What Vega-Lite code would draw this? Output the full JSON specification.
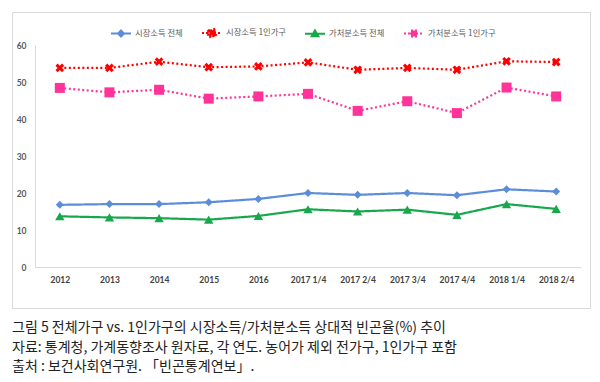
{
  "$schema": "https://vega.github.io/schema/vega-lite/v6.json",
  "width": 578,
  "height": 296,
  "autosize": {"type": "none"},
  "padding": {"left": 12, "top": 12, "right": 10, "bottom": 74},
  "background": "white",
  "config": {
    "view": {"stroke": "#d9d9d9", "strokeWidth": 1},
    "axis": {"grid": false, "ticks": false, "tickSize": 0, "title": null, "domainColor": "#d9d9d9", "domainWidth": 1, "labelFont": "Lato", "labelFontWeight": "bold"}
  },
  "title": {
    "text": [
      "그림 5 전체가구 vs. 1인가구의 시장소득/가처분소득 상대적 빈곤율(%) 추이",
      "자료: 통계청, 가계동향조사 원자료, 각 연도. 농어가 제외 전가구, 1인가구 포함",
      "출처 : 보건사회연구원. 「빈곤통계연보」."
    ],
    "orient": "bottom",
    "anchor": "start",
    "frame": "group",
    "offset": 13,
    "font": "Noto Sans CJK KR",
    "fontSize": 14,
    "fontWeight": "normal",
    "color": "#222222",
    "lineHeight": 19.5
  },
  "data": {
    "values": [
      {"period": "2012", "series": "시장소득 전체", "value": 16.8},
      {"period": "2013", "series": "시장소득 전체", "value": 17.0},
      {"period": "2014", "series": "시장소득 전체", "value": 17.0},
      {"period": "2015", "series": "시장소득 전체", "value": 17.5},
      {"period": "2016", "series": "시장소득 전체", "value": 18.4},
      {"period": "2017 1/4", "series": "시장소득 전체", "value": 20.0},
      {"period": "2017 2/4", "series": "시장소득 전체", "value": 19.5},
      {"period": "2017 3/4", "series": "시장소득 전체", "value": 20.0},
      {"period": "2017 4/4", "series": "시장소득 전체", "value": 19.4},
      {"period": "2018 1/4", "series": "시장소득 전체", "value": 21.0},
      {"period": "2018 2/4", "series": "시장소득 전체", "value": 20.4},
      {"period": "2012", "series": "시장소득 1인가구", "value": 53.8},
      {"period": "2013", "series": "시장소득 1인가구", "value": 53.8},
      {"period": "2014", "series": "시장소득 1인가구", "value": 55.5},
      {"period": "2015", "series": "시장소득 1인가구", "value": 54.0},
      {"period": "2016", "series": "시장소득 1인가구", "value": 54.2},
      {"period": "2017 1/4", "series": "시장소득 1인가구", "value": 55.3},
      {"period": "2017 2/4", "series": "시장소득 1인가구", "value": 53.3},
      {"period": "2017 3/4", "series": "시장소득 1인가구", "value": 53.8},
      {"period": "2017 4/4", "series": "시장소득 1인가구", "value": 53.3},
      {"period": "2018 1/4", "series": "시장소득 1인가구", "value": 55.6},
      {"period": "2018 2/4", "series": "시장소득 1인가구", "value": 55.4},
      {"period": "2012", "series": "가처분소득 전체", "value": 13.7},
      {"period": "2013", "series": "가처분소득 전체", "value": 13.4},
      {"period": "2014", "series": "가처분소득 전체", "value": 13.2},
      {"period": "2015", "series": "가처분소득 전체", "value": 12.8},
      {"period": "2016", "series": "가처분소득 전체", "value": 13.8},
      {"period": "2017 1/4", "series": "가처분소득 전체", "value": 15.6},
      {"period": "2017 2/4", "series": "가처분소득 전체", "value": 15.0},
      {"period": "2017 3/4", "series": "가처분소득 전체", "value": 15.5},
      {"period": "2017 4/4", "series": "가처분소득 전체", "value": 14.1},
      {"period": "2018 1/4", "series": "가처분소득 전체", "value": 17.0},
      {"period": "2018 2/4", "series": "가처분소득 전체", "value": 15.7},
      {"period": "2012", "series": "가처분소득 1인가구", "value": 48.4},
      {"period": "2013", "series": "가처분소득 1인가구", "value": 47.2},
      {"period": "2014", "series": "가처분소득 1인가구", "value": 47.9},
      {"period": "2015", "series": "가처분소득 1인가구", "value": 45.5},
      {"period": "2016", "series": "가처분소득 1인가구", "value": 46.1},
      {"period": "2017 1/4", "series": "가처분소득 1인가구", "value": 46.8},
      {"period": "2017 2/4", "series": "가처분소득 1인가구", "value": 42.2},
      {"period": "2017 3/4", "series": "가처분소득 1인가구", "value": 44.8},
      {"period": "2017 4/4", "series": "가처분소득 1인가구", "value": 41.6},
      {"period": "2018 1/4", "series": "가처분소득 1인가구", "value": 48.5},
      {"period": "2018 2/4", "series": "가처분소득 1인가구", "value": 46.1}
    ]
  },
  "encoding": {
    "x": {
      "field": "period",
      "type": "ordinal",
      "sort": null,
      "scale": {"type": "point", "range": [23, 569], "padding": 0.5},
      "axis": {"labelAngle": 0, "offset": -41, "labelPadding": 8, "labelFontSize": 8.5, "labelColor": "#404040"}
    },
    "y": {
      "field": "value",
      "type": "quantitative",
      "scale": {"domain": [0, 60], "nice": false, "range": [255, 33]},
      "axis": {"values": [0, 10, 20, 30, 40, 50, 60], "offset": -23, "labelPadding": 9, "labelFontSize": 8.5, "labelColor": "#595959"}
    }
  },
  "resolve": {"scale": {"color": "independent"}, "legend": {"color": "independent"}},
  "layer": [
    {
      "mark": {"type": "line", "strokeWidth": 2.2},
      "encoding": {
        "color": {
          "field": "series",
          "type": "nominal",
          "scale": {
            "domain": ["시장소득 전체", "시장소득 1인가구", "가처분소득 전체", "가처분소득 1인가구"],
            "range": ["#5B8DD9", "#FF0000", "#17A84B", "#FF3399"]
          },
          "legend": {
            "orient": "none",
            "legendX": 98,
            "legendY": 10,
            "direction": "horizontal",
            "title": null,
            "symbolSize": 400,
            "symbolStrokeWidth": 2,
            "labelFont": "Noto Sans CJK KR",
            "labelFontSize": 8.3,
            "labelColor": "#595959",
            "labelOffset": 3,
            "columnPadding": 15,
            "encode": {
              "symbols": {
                "update": {
                  "shape": {"signal": "datum.value === '시장소득 전체' ? 'M-1,0H1M0,-0.3L0.3,0L0,0.3L-0.3,0Z' : datum.value === '시장소득 1인가구' ? 'M-1,0H1M-0.4,-0.2L-0.2,-0.4L0,-0.2L0.2,-0.4L0.4,-0.2L0.2,0L0.4,0.2L0.2,0.4L0,0.2L-0.2,0.4L-0.4,0.2L-0.2,0Z' : datum.value === '가처분소득 전체' ? 'M-1,0H1M0,-0.32L0.34,0.26L-0.34,0.26Z' : 'M-1,0H1M-0.3,-0.3H0.3V0.3H-0.3Z'"},
                  "strokeDash": {"signal": "indexof(datum.value, '1인') >= 0 ? [2, 2] : [1, 0]"},
                  "fill": {"signal": "datum.value === '시장소득 전체' ? '#5B8DD9' : datum.value === '시장소득 1인가구' ? '#FF0000' : datum.value === '가처분소득 전체' ? '#17A84B' : '#FF3399'"},
                  "stroke": {"signal": "datum.value === '시장소득 전체' ? '#5B8DD9' : datum.value === '시장소득 1인가구' ? '#FF0000' : datum.value === '가처분소득 전체' ? '#17A84B' : '#FF3399'"},
                  "strokeWidth": {"value": 2},
                  "opacity": {"value": 1},
                  "fillOpacity": {"value": 1}
                }
              }
            }
          }
        },
        "strokeDash": {
          "field": "series",
          "type": "nominal",
          "scale": {
            "domain": ["시장소득 전체", "시장소득 1인가구", "가처분소득 전체", "가처분소득 1인가구"],
            "range": [[1, 0], [2, 2.5], [1, 0], [2, 2.5]]
          },
          "legend": null
        }
      }
    },
    {
      "mark": {"type": "point", "filled": true, "opacity": 1},
      "encoding": {
        "color": {
          "field": "series",
          "type": "nominal",
          "scale": {
            "domain": ["시장소득 전체", "시장소득 1인가구", "가처분소득 전체", "가처분소득 1인가구"],
            "range": ["#5B8DD9", "#FF0000", "#17A84B", "#FF3399"]
          },
          "legend": null
        },
        "shape": {
          "field": "series",
          "type": "nominal",
          "scale": {
            "domain": ["시장소득 전체", "시장소득 1인가구", "가처분소득 전체", "가처분소득 1인가구"],
            "range": ["diamond", "M-1,-0.5L-0.5,-1L0,-0.5L0.5,-1L1,-0.5L0.5,0L1,0.5L0.5,1L0,0.5L-0.5,1L-1,0.5L-0.5,0Z", "triangle-up", "square"]
          },
          "legend": null
        },
        "size": {
          "field": "series",
          "type": "ordinal",
          "scale": {
            "domain": ["시장소득 전체", "시장소득 1인가구", "가처분소득 전체", "가처분소득 1인가구"],
            "range": [64, 100, 60, 72]
          },
          "legend": null
        }
      }
    }
  ]
}
